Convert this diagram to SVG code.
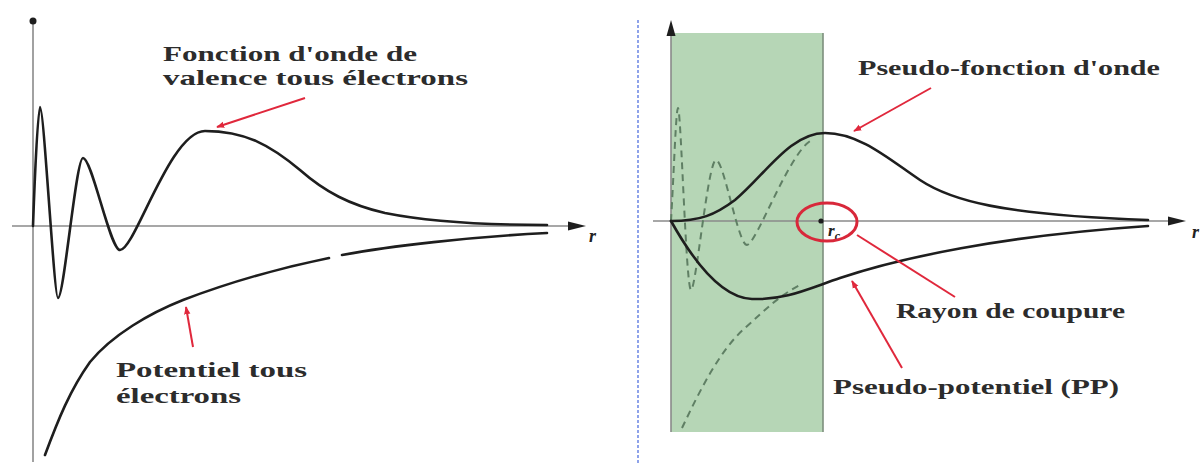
<svg xmlns="http://www.w3.org/2000/svg" width="1203" height="464" viewBox="0 0 1203 464">
<style>
.axis{stroke:#8a8a8a;stroke-width:1.6;fill:none}
.curve{stroke:#1e1e1e;stroke-width:2.6;fill:none;stroke-linecap:round}
.dash{stroke:#5f7f64;stroke-width:2;fill:none;stroke-dasharray:7 5}
.red{stroke:#e0283c;stroke-width:2;fill:none}
.lbl{font-family:"Liberation Serif","DejaVu Serif",serif;font-weight:bold;font-size:22px;fill:#2c2c2c}
.var{font-family:"Liberation Serif","DejaVu Serif",serif;font-weight:bold;font-style:italic;fill:#222}
</style>
<defs>
<marker id="redhead" viewBox="0 0 10 10" refX="9" refY="5" markerWidth="4" markerHeight="4" orient="auto" markerUnits="strokeWidth">
<path d="M0,1 L10,5 L0,9 z" fill="#e0283c"/>
</marker>
</defs>
<rect width="1203" height="464" fill="#ffffff"/>

<g id="left-panel">
<g id="left-axes">
<line class="axis" x1="33" y1="21" x2="33" y2="462"/>
<circle cx="33" cy="21" r="3.5" fill="#1e1e1e"/>
<line class="axis" x1="12" y1="226" x2="574" y2="226"/>
<polygon points="568,221.5 586,226 568,230.5" fill="#1e1e1e"/>
<text class="var" x="589" y="242" font-size="18">r</text>
</g>
<g id="left-wave">
<path class="curve" d="M33,226 C35,170 38,107 40,107 C44,107 54,298 58,298 C64,298 76,158 83,158 C92,158 110,250 120,250 C135,250 170,131 205,131 C245,131 270,145 300,170 C325,192 350,205 385,213 C430,222 490,225 547,225"/>
</g>
<g id="left-potential">
<path class="curve" d="M45,455 C58,420 70,390 90,362 C112,335 150,313 183,300 C230,282 280,268 329,258"/>
<path class="curve" d="M342,255 C390,246 470,237 547,233"/>
</g>
<g id="label-wave">
<text class="lbl" x="163" y="61" textLength="254" lengthAdjust="spacingAndGlyphs">Fonction d'onde de</text>
<text class="lbl" x="163" y="85" textLength="305" lengthAdjust="spacingAndGlyphs">valence tous électrons</text>
</g>
<g id="label-potential">
<text class="lbl" x="116" y="377" textLength="191" lengthAdjust="spacingAndGlyphs">Potentiel tous</text>
<text class="lbl" x="116" y="403" textLength="125" lengthAdjust="spacingAndGlyphs">électrons</text>
</g>
</g>

<g id="separator">
<line x1="638" y1="20" x2="638" y2="464" stroke="#4466dd" stroke-width="1.2" stroke-dasharray="3 2"/>
</g>

<g id="right-panel">
<g id="core-region">
<rect x="671" y="33" width="152" height="399" fill="#b6d6b6"/>
<line x1="823" y1="33" x2="823" y2="432" stroke="#7d8f7d" stroke-width="1.6"/>
</g>
<g id="right-axes">
<line class="axis" x1="671" y1="432" x2="671" y2="32" stroke="#666"/>
<polygon points="666.5,36 671,20 675.5,36" fill="#1e1e1e"/>
<line class="axis" x1="653" y1="221" x2="1174" y2="221"/>
<polygon points="1168,216.5 1186,221 1168,225.5" fill="#1e1e1e"/>
<text class="var" x="1192" y="238" font-size="18">r</text>
</g>
<g id="ae-dashed">
<path class="dash" d="M671,221 C674,170 676,108 678,108 C681,108 686,290 691,290 C696,290 708,160 716,160 C724,160 738,245 747,245 C756,245 790,150 812,140"/>
<path class="dash" d="M682,428 C700,390 720,350 745,328 C765,310 780,295 800,285"/>
</g>
<g id="pseudo-wave">
<path class="curve" d="M671,221 C700,221 715,215 735,200 C765,175 790,133 825,133 C860,133 890,160 920,180 C950,200 1000,215 1148,220"/>
</g>
<g id="pseudo-potential">
<path class="curve" d="M671,221 C690,255 720,298 752,299 C785,300 805,290 840,278 C900,258 1000,236 1148,226"/>
</g>
<g id="cutoff">
<circle cx="821" cy="221" r="2.6" fill="#1e1e1e"/>
<text class="var" x="828" y="236" font-size="17">r<tspan font-size="12" dy="4">c</tspan></text>
<ellipse cx="827" cy="222" rx="30" ry="19" fill="none" stroke="#d8283a" stroke-width="3"/>
</g>
<g id="label-pseudo-wave">
<text class="lbl" x="858" y="75" textLength="302" lengthAdjust="spacingAndGlyphs">Pseudo-fonction d'onde</text>
</g>
<g id="label-cutoff">
<text class="lbl" x="896" y="318" textLength="229" lengthAdjust="spacingAndGlyphs">Rayon de coupure</text>
</g>
<g id="label-pp">
<text class="lbl" x="833" y="394" textLength="286" lengthAdjust="spacingAndGlyphs">Pseudo-potentiel (PP)</text>
</g>
</g>

<g id="connectors">
<line class="red" x1="305" y1="98" x2="217" y2="127" marker-end="url(#redhead)"/>
<line class="red" x1="193" y1="347" x2="186" y2="307" marker-end="url(#redhead)"/>
<line class="red" x1="931" y1="88" x2="854" y2="131" marker-end="url(#redhead)"/>
<line class="red" x1="857" y1="235" x2="955" y2="297" stroke-width="3"/>
<line class="red" x1="902" y1="368" x2="852" y2="281" marker-end="url(#redhead)"/>
</g>
</svg>
